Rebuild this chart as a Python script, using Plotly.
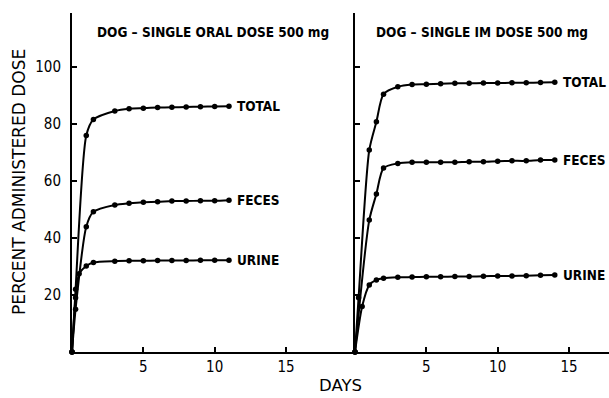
import plotly.graph_objects as go

# ---- data ----
oral_total_days = [0, 0.25, 1, 1.5, 3, 4, 5, 6, 7, 8, 9, 10, 11]
oral_total = [0, 22, 76, 81.6, 84.6, 85.4, 85.6, 85.8, 85.9, 86.0, 86.1, 86.2, 86.3]
oral_feces_days = [0, 0.25, 1, 1.5, 3, 4, 5, 6, 7, 8, 9, 10, 11]
oral_feces = [0, 15, 44, 49.2, 51.6, 52.2, 52.6, 52.7, 53.0, 53.0, 53.1, 53.1, 53.3]
oral_urine_days = [0, 0.25, 0.5, 1, 1.5, 3, 4, 5, 6, 7, 8, 9, 10, 11]
oral_urine = [0, 19, 27.5, 30.2, 31.4, 31.9, 32.0, 32.0, 32.1, 32.1, 32.1, 32.2, 32.2, 32.2]

im_total_days = [0, 0.25, 1, 1.5, 2, 3, 4, 5, 6, 7, 8, 9, 10, 11, 12, 13, 14]
im_total = [0, 19, 70.9, 80.8, 90.5, 93.1, 93.9, 94.0, 94.2, 94.3, 94.3, 94.4, 94.4, 94.5, 94.5, 94.6, 94.7]
im_feces_days = [0, 1, 1.5, 2, 3, 4, 5, 6, 7, 8, 9, 10, 11, 12, 13, 14]
im_feces = [0, 46.3, 55.5, 64.6, 66.2, 66.6, 66.6, 66.6, 66.6, 66.8, 66.8, 67.0, 67.1, 67.1, 67.4, 67.4]
im_urine_days = [0, 0.5, 1, 1.5, 2, 3, 4, 5, 6, 7, 8, 9, 10, 11, 12, 13, 14]
im_urine = [0, 16, 23.5, 25.3, 25.9, 26.2, 26.3, 26.4, 26.4, 26.5, 26.5, 26.6, 26.7, 26.7, 26.8, 26.9, 27.0]

series_names = ["TOTAL", "FECES", "URINE"]
panel_titles = ["DOG \u2013 SINGLE ORAL DOSE 500 mg", "DOG \u2013 SINGLE IM DOSE 500 mg"]
x_ticks = [5, 10, 15]
y_ticks = [20, 40, 60, 80, 100]
x_title = "DAYS"
y_title = "PERCENT ADMINISTERED DOSE"

NARROW = "Liberation Sans Narrow, DejaVu Sans Condensed, Arial Narrow, sans-serif"
SANS = "DejaVu Sans, Liberation Sans, Arial, sans-serif"

fig = go.Figure()

panels = [
    ("x", "y", [(oral_total_days, oral_total), (oral_feces_days, oral_feces), (oral_urine_days, oral_urine)]),
    ("x2", "y2", [(im_total_days, im_total), (im_feces_days, im_feces), (im_urine_days, im_urine)]),
]

annotations = []
for xa, ya, sers in panels:
    for name, (dx, dy) in zip(series_names, sers):
        fig.add_trace(go.Scatter(
            x=dx, y=dy, xaxis=xa, yaxis=ya, mode="lines+markers",
            line=dict(color="black", width=2, shape="spline", smoothing=0.7),
            marker=dict(color="black", size=5.5),
            showlegend=False, name=name, cliponaxis=False, hoverinfo="skip"))
        annotations.append(dict(
            x=dx[-1], y=dy[-1], xref=xa, yref=ya, text=f"<b>{name}</b>",
            showarrow=False, xanchor="left", yanchor="middle", xshift=6,
            font=dict(family=NARROW, size=13.5, color="black")))

W, H = 609, 398
L, R, T, B = 72, 0, 13, 46
pw = W - L - R
ph = H - T - B
split = (355 - L) / pw
px_per_day = 14.27

annotations += [
    dict(x=(212.5 - L) / pw, y=(352 - 31.7) / ph, xref="paper", yref="paper",
         text=f"<b>{panel_titles[0]}</b>", showarrow=False, xanchor="center", yanchor="middle",
         font=dict(family=NARROW, size=13.5, color="black")),
    dict(x=(481.5 - L) / pw, y=(352 - 31.7) / ph, xref="paper", yref="paper",
         text=f"<b>{panel_titles[1]}</b>", showarrow=False, xanchor="center", yanchor="middle",
         font=dict(family=NARROW, size=13.5, color="black")),
    dict(x=(19 - L) / pw, y=(352 - 182) / ph, xref="paper", yref="paper",
         text=y_title, textangle=-90, showarrow=False, xanchor="center", yanchor="middle",
         font=dict(family=SANS, size=17, color="black")),
    dict(x=(340 - L) / pw, y=(352 - 385) / ph, xref="paper", yref="paper",
         text=x_title, showarrow=False, xanchor="center", yanchor="middle",
         font=dict(family=SANS, size=16.5, color="black")),
]

axis_common = dict(showgrid=False, zeroline=False, showline=True, linecolor="black", linewidth=2,
                   ticks="inside", ticklen=5, tickwidth=1.5, tickcolor="black",
                   tickfont=dict(family=NARROW, size=15, color="black"))

fig.update_layout(
    width=W, height=H, margin=dict(l=L, r=R, t=T, b=B),
    paper_bgcolor="white", plot_bgcolor="white", hovermode=False,
    xaxis=dict(domain=[0, split], range=[0, (355 - 72) / px_per_day], tickvals=x_ticks,
               ticktext=[str(v) for v in x_ticks], anchor="y", **axis_common),
    xaxis2=dict(domain=[split, 1], range=[0, (609 - 355) / px_per_day], tickvals=x_ticks,
                ticktext=[str(v) for v in x_ticks], anchor="y2", **axis_common),
    yaxis=dict(domain=[0, 1], range=[0, 119], tickvals=y_ticks, anchor="x",
               ticklabelstandoff=6, **axis_common),
    yaxis2=dict(domain=[0, 1], range=[0, 119], tickvals=y_ticks, anchor="x2",
                showticklabels=False, **axis_common),
    annotations=annotations,
)

fig.write_html("out.html", config={"displayModeBar": False},
               post_script="document.body.style.margin='0';document.body.style.overflow='hidden';")
